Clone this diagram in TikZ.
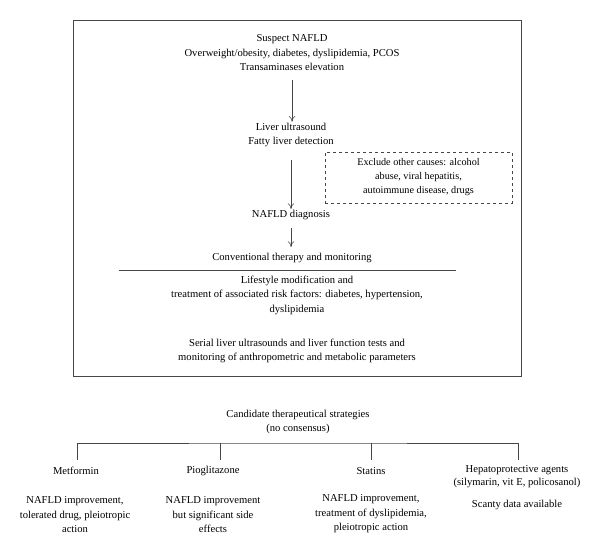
\documentclass[tikz,border=0pt]{standalone}
\usepackage{fontspec}
\setmainfont{Liberation Serif}
\usetikzlibrary{arrows.meta,positioning,calc}
\definecolor{frame}{RGB}{70,70,70}
\tikzset{
  txt/.style={align=center, font=\fontsize{10.6}{14.5}\selectfont, inner sep=1pt},
  dn/.style={-{To[length=2mm,width=2.2mm]}, frame, semithick},
  outer/.style={draw=frame, line width=1pt},
  excl/.style={txt, font=\fontsize{10.2}{14}\selectfont, draw=frame, dashed, thick,
               minimum width=187pt, minimum height=51pt},
  rule/.style={frame, line width=0.7pt},
  tree/.style={frame, line width=0.8pt},
}

\begin{document}
\begin{tikzpicture}[x=1pt, y=-1pt]
    \useasboundingbox (0,0) rectangle (600,555);
    % flow inside the frame
    \draw[outer] (73,20) rectangle (521,376);
    \node[txt] (suspect) at (292,53) {Suspect NAFLD\\Overweight/obesity, diabetes, dyslipidemia, PCOS\\Transaminases elevation};
    \node[txt] (liver) at (291,135) {Liver ultrasound\\Fatty liver detection};
    \node[txt] (diag) at (291,215) {NAFLD diagnosis};
    \node[txt] (conv) at (292,258) {Conventional therapy and monitoring};
    \node[excl] (exclude) at (418.5,177.5) {Exclude other causes: alcohol\\abuse, viral hepatitis,\\autoimmune disease, drugs};
    \draw[dn] (suspect.south) ++(0,8) coordinate (s1) -- (liver.north -| s1);
    \draw[dn] (liver.south) ++(0,12) coordinate (s2) -- (diag.north -| s2);
    \draw[dn, shorten >=5pt] (diag.south) ++(0,7) coordinate (s3) -- (conv.north -| s3);
    \coordinate (rl) at (119,270); \coordinate (rr) at (456,270);
    \draw[rule] (rl) -- (rr);
    \node[txt] (life) at (297,295) {Lifestyle modification and\\treatment of associated risk factors: diabetes, hypertension,\\dyslipidemia};
    \node[txt] (serial) at (297,351) {Serial liver ultrasounds and liver function tests and\\monitoring of anthropometric and metabolic parameters};

    % candidate strategies
    \node[txt] (cand) at (298,422) {Candidate therapeutical strategies\\(no consensus)};
    \coordinate (brk) at (298,443);
    \coordinate (t1) at (77,460); \coordinate (t2) at (220,460);
    \coordinate (t3) at (371,460); \coordinate (t4) at (518,460);
    \draw[tree] (t1) |- (brk) -| (t4);
    \draw[tree] (t2) -- (t2 |- brk);
    \draw[tree] (t3) -- (t3 |- brk);
    \node[txt] (met) at (76,471) {Metformin};
    \node[txt] (pio) at (213,471) {Pioglitazone};
    \node[txt] (sta) at (371,471) {Statins};
    \node[txt, font=\fontsize{10.6}{12.8}\selectfont] (hep) at (517,477) {Hepatoprotective agents\\(silymarin, vit E, policosanol)};
    \node[txt] (metd) at (75,515) {NAFLD improvement,\\tolerated drug, pleiotropic\\action};
    \node[txt] (piod) at (213,515) {NAFLD improvement\\but significant side\\effects};
    \node[txt] (stad) at (371,514) {NAFLD improvement,\\treatment of dyslipidemia,\\pleiotropic action};
    \node[txt] (hepd) at (517,505) {Scanty data available};
\end{tikzpicture}
\end{document}
